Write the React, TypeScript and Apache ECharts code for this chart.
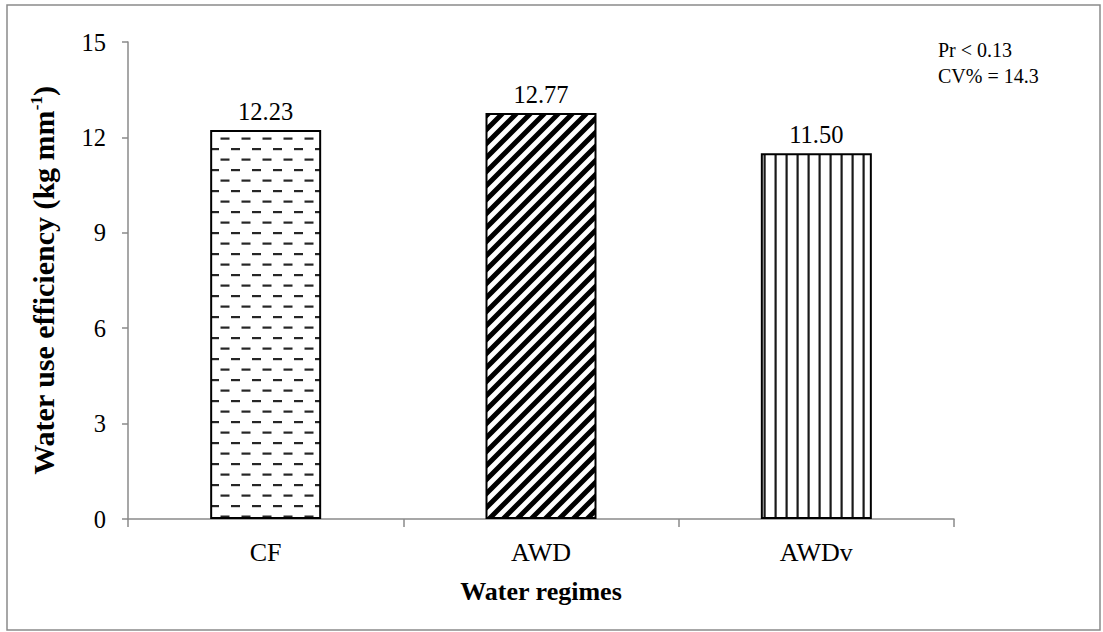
import React, { useEffect, useRef } from "react";
import * as echarts from "echarts";

const categories = ["CF", "AWD", "AWDv"];
const values = [12.23, 12.77, 11.5];
const valueLabels = ["12.23", "12.77", "11.50"];
const yMin = 0;
const yMax = 15;
const yInterval = 3;
const noteLines = ["Pr < 0.13", "CV% = 14.3"];
const xAxisTitle = "Water regimes";
const yAxisTitle = "Water use efficiency (kg mm{sup|-1})";

const FONT = "'Liberation Serif', 'Times New Roman', serif";
const AXIS_GRAY = "#8a8a8a";

function makeTile(kind: string) {
  const c = document.createElement("canvas");
  let w = 21;
  let h = 21;
  if (kind === "diag") { w = 14; h = 14; }
  if (kind === "vert") { w = 11; h = 10; }
  c.width = w;
  c.height = h;
  const ctx = c.getContext("2d")!;
  ctx.fillStyle = "#ffffff";
  ctx.fillRect(0, 0, w, h);
  if (kind === "dash") {
    ctx.fillStyle = "#262626";
    ctx.fillRect(0, 1, 9, 2.2);
    ctx.fillRect(10.5, 11.5, 9, 2.2);
  } else if (kind === "diag") {
    ctx.strokeStyle = "#000000";
    ctx.lineWidth = 5;
    ctx.lineCap = "square";
    ctx.beginPath();
    ctx.moveTo(-7, 7); ctx.lineTo(7, -7);
    ctx.moveTo(-1, 15); ctx.lineTo(15, -1);
    ctx.moveTo(7, 21); ctx.lineTo(21, 7);
    ctx.stroke();
  } else {
    ctx.fillStyle = "#1a1a1a";
    ctx.fillRect(4.5, 0, 2.2, h);
  }
  return { image: c as any, repeat: "repeat" as const, imageWidth: w, imageHeight: h };
}

export default function App() {
  const ref = useRef<HTMLDivElement>(null);
  useEffect(() => {
    if (!ref.current) return;
    const chart = echarts.init(ref.current, undefined, { renderer: "svg" });
    const patterns = [makeTile("dash"), makeTile("diag"), makeTile("vert")];
    chart.setOption({
      animation: false,
      backgroundColor: "#ffffff",
      textStyle: { fontFamily: FONT },
      grid: { left: 128, right: 149, top: 42, bottom: 113, containLabel: false },
      xAxis: {
        type: "category",
        data: categories,
        name: xAxisTitle,
        nameLocation: "middle",
        nameGap: 59,
        nameTextStyle: { fontFamily: FONT, fontSize: 26, fontWeight: "bold", color: "#000" },
        axisLine: { show: true, lineStyle: { color: AXIS_GRAY, width: 1.5 } },
        axisTick: { show: true, length: 8, lineStyle: { color: AXIS_GRAY, width: 1.5 } },
        axisLabel: { fontFamily: FONT, fontSize: 26, color: "#000", margin: 20 },
        splitLine: { show: false },
      },
      yAxis: {
        type: "value",
        min: yMin,
        max: yMax,
        interval: yInterval,
        name: yAxisTitle,
        nameLocation: "middle",
        nameRotate: 90,
        nameGap: 70,
        nameTextStyle: {
          fontFamily: FONT,
          fontSize: 30,
          fontWeight: "bold",
          color: "#000",
          rich: {
            sup: { fontFamily: FONT, fontSize: 17, fontWeight: "bold", color: "#000", verticalAlign: "top" },
          },
        },
        axisLine: { show: true, lineStyle: { color: AXIS_GRAY, width: 1.5 } },
        axisTick: { show: true, length: 6, lineStyle: { color: AXIS_GRAY, width: 1.5 } },
        axisLabel: { fontFamily: FONT, fontSize: 24.5, color: "#000", margin: 22 },
        splitLine: { show: false },
      },
      series: [
        {
          type: "bar",
          barWidth: 111,
          data: values.map((v, i) => ({
            value: v,
            itemStyle: { color: patterns[i], borderColor: "#000", borderWidth: 2 },
            label: {
              show: true,
              position: "top",
              distance: 6,
              formatter: valueLabels[i],
              fontFamily: FONT,
              fontSize: 24.5,
              color: "#000",
            },
          })),
          emphasis: { disabled: true },
        },
      ],
      graphic: [
        {
          type: "rect",
          shape: { x: 7, y: 5, width: 1093, height: 625 },
          style: { fill: "none", stroke: AXIS_GRAY, lineWidth: 1.5 },
          silent: true,
          z: -1,
        },
        {
          type: "text",
          left: 938,
          top: 37,
          style: { text: noteLines.join("\n"), fontFamily: FONT, fontSize: 20, lineHeight: 26, fill: "#000" },
          silent: true,
        },
      ],
    });
    return () => chart.dispose();
  }, []);
  return (
    <div
      ref={ref}
      style={{ position: "fixed", left: 0, top: 0, width: 1103, height: 632, background: "#fff" }}
    />
  );
}
